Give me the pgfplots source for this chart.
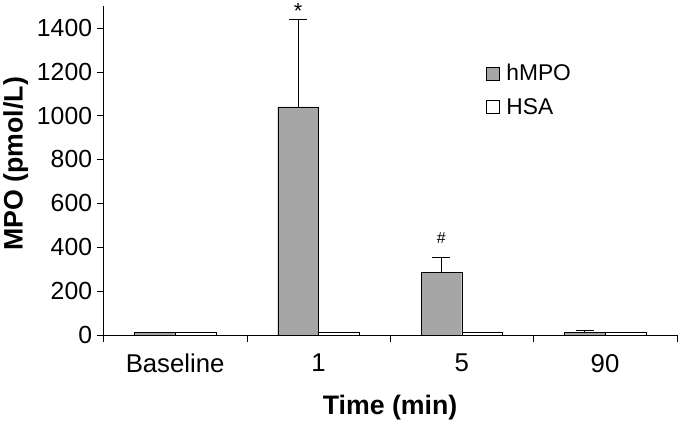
\documentclass[border=0pt]{standalone}
\usepackage{pgfplots}
\pgfplotsset{compat=1.18}
\usepackage{fontspec}
\setmainfont{Liberation Sans}
\definecolor{barfill}{RGB}{166,166,166}
\begin{document}
\begin{tikzpicture}
\begin{axis}[
  scale only axis,
  width=577bp, height=331bp,
  xmin=-0.5, xmax=3.5,
  ymin=0, ymax=1500,
  axis x line*=bottom, axis y line*=left,
  ybar=0pt, bar width=41bp,
  xtick={-0.5,0.5,1.5,2.5,3.5},
  xticklabels={},
  extra x ticks={0,1,2,3},
  extra x tick labels={Baseline,1,5,90},
  extra x tick style={major tick length=0pt,
    xticklabel style={yshift=-16bp, font=\fontsize{26}{28}\selectfont}},
  ytick={0,200,...,1400},
  tick align=outside, major tick length=7bp,
  tick style={black, thin},
  axis line style={black, thin},
  /pgf/number format/assume math mode=true,
  /pgf/number format/1000 sep={},
  ticklabel style={font=\fontsize{25}{27}\selectfont},
  yticklabel style={xshift=-1bp},
  xlabel={\textbf{Time (min)}},
  ylabel={\textbf{MPO (pmol/L)}},
  xlabel style={yshift=-8bp},
  ylabel style={at={(ticklabel cs:0.52)}, yshift=2bp},
  label style={font=\fontsize{27}{29}\selectfont},
  legend style={draw=none, fill=none, at={(0.662,0.835)}, anchor=north west,
    font=\fontsize{23}{25}\selectfont, row sep=12bp},
  legend cell align=left,
  legend image code/.code={\draw[#1, draw=black] (0bp,-6.5bp) rectangle (13bp,6.5bp);},
  clip=false,
]
\addplot[draw=black, fill=barfill,
  error bars/.cd, y dir=plus, y explicit,
  error bar style={black, thin},
  error mark options={rotate=90, mark size=9bp, black, thin}]
coordinates {
  (0,12) +- (0,0)
  (1,1040) +- (0,400)
  (2,285) +- (0,68)
  (3,12) +- (0,9)
};
\addlegendentry{\hspace{5bp}hMPO}
\addplot[draw=black, fill=white]
coordinates {
  (0,12)
  (1,10)
  (2,10)
  (3,10)
};
\addlegendentry{\hspace{5bp}HSA}
\node[font=\fontsize{22}{24}\selectfont] at (axis cs:0.858,1478) {*};
\node[font=\fontsize{16}{18}\selectfont] at (axis cs:1.858,440) {\#};
\end{axis}
\end{tikzpicture}
\end{document}
